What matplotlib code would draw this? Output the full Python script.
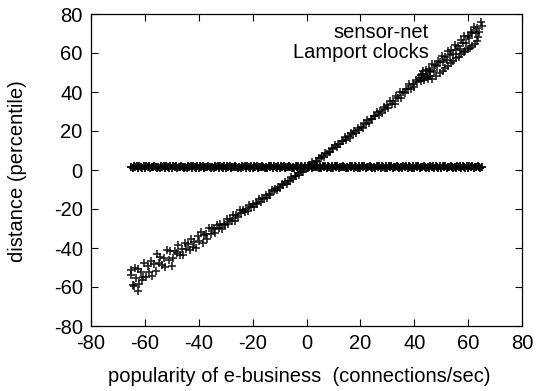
import matplotlib
matplotlib.use("Agg")
import matplotlib.pyplot as plt

# ---- data ----
series_names = ["sensor-net", "Lamport clocks"]

diag_x = [
    -65.0, -64.4, -63.8, -63.2, -62.6, -62.0, -61.4, -60.8, -60.2, -59.6, -59.0, -58.4, -57.8, -57.2,
    -56.6, -56.0, -55.4, -54.8, -54.2, -53.6, -53.0, -52.4, -51.8, -51.2, -50.6, -50.0,
    -62.4, -64.0, -65.0, -61.0,
    -49.4, -48.8, -48.2, -47.6, -47.0, -46.4, -45.8, -45.2, -44.6, -44.0, -43.4, -42.8, -42.2, -41.6,
    -41.0, -40.4, -39.8, -39.2, -38.6, -38.0, -37.4, -36.8, -36.2, -35.6, -35.0,
    -34.4, -33.8, -33.2, -32.6, -32.0, -31.4, -30.8, -30.2, -29.6, -29.0, -28.4, -27.8, -27.2, -26.6,
    -26.0, -25.4, -24.8, -24.2, -23.6, -23.0,
    -22.4, -21.8, -21.2, -20.6, -20.0, -19.4, -18.8, -18.2, -17.6, -17.0, -16.4, -15.8, -15.2, -14.6,
    -14.0, -13.4, -12.8, -12.2, -11.6, -11.0,
    -10.4, -9.8, -9.2, -8.6, -8.0, -7.4, -6.8, -6.2, -5.6, -5.0, -4.4, -3.8, -3.2, -2.6, -2.0, -1.4,
    -0.8, -0.2,
    0.4, 1.0, 1.6, 2.2, 2.8, 3.4, 4.0, 4.6, 5.2, 5.8, 6.4, 7.0, 7.6, 8.2, 8.8, 9.4, 10.0, 10.6, 11.2, 11.8,
    12.4, 13.0, 13.6, 14.2, 14.8, 15.4, 16.0, 16.6, 17.2, 17.8, 18.4, 19.0, 19.6, 20.2, 20.8, 21.4,
    22.0, 22.6, 23.2, 23.8, 24.4, 25.0, 25.6, 26.2, 26.8, 27.4, 28.0, 28.6, 29.2, 29.8,
    30.4, 31.0, 31.6, 32.2, 32.8, 33.4, 34.0, 34.6, 35.2, 35.8, 36.4, 37.0, 37.6, 38.2, 38.8, 39.4,
    40.0, 40.6, 41.2, 41.8, 42.4, 43.0, 43.6, 44.2, 44.8,
    42.5, 43.2, 44.5, 45.7, 46.0, 45.2, 43.8, 42.8,
    45.4, 46.0, 46.6, 47.2, 47.8, 48.4, 49.0, 49.6, 50.2, 50.8, 51.4, 52.0, 52.6, 53.2, 53.8, 54.4,
    55.0, 55.6, 56.2, 56.8, 57.4, 58.0, 58.6, 59.2, 59.8, 60.4, 61.0, 61.6, 62.2, 62.8, 63.4, 64.0,
    64.6, 65.0,
    46.5, 48.0, 49.5, 50.5, 51.5, 52.5, 53.5, 54.5, 55.5, 56.5, 57.5, 58.3, 59.0, 60.0, 60.8, 61.6,
    62.4, 63.2, 63.8]
diag_y = [
    -54.0, -59.1, -50.2, -55.2, -50.8, -58.3, -52.4, -54.9, -47.9, -55.0, -49.0, -52.1, -46.6, -54.2,
    -48.2, -51.7, -43.3, -47.8, -44.8, -48.9, -44.9, -49.9, -40.9, -46.0, -41.5, -49.0,
    -61.8, -59.5, -51.5, -56.5,
    -44.9, -41.3, -42.6, -38.6, -43.7, -40.4, -43.8, -37.6, -40.7, -37.7, -41.1, -35.3, -39.4, -36.8,
    -40.1, -34.0, -36.3, -32.0, -37.4, -33.1, -32.7, -35.5, -29.9, -32.7, -29.8,
    -30.4, -32.1, -28.2, -29.9, -27.8, -30.4, -27.7, -28.4, -25.3, -27.7, -25.0, -25.9, -23.3, -26.0,
    -23.3, -24.3, -20.6, -22.0, -20.5, -21.7,
    -19.9, -21.0, -18.0, -19.1, -17.3, -19.2, -17.0, -17.3, -14.8, -16.5, -14.3, -14.8, -12.7, -14.5,
    -12.3, -12.9, -10.0, -10.9, -9.6, -10.4,
    -8.9, -9.4, -7.1, -7.7, -6.3, -7.3, -5.6, -5.6, -3.7, -4.7, -3.0, -3.1, -1.5, -2.5, -0.8, -1.0,
    1.2, 0.8,
    1.0, 2.5, 2.6, 4.2, 3.2, 4.6, 4.1, 6.3, 5.9, 7.3, 6.8, 8.9, 8.2, 9.4, 9.0, 11.2, 11.0, 12.7, 11.7, 13.4,
    13.2, 15.0, 15.0, 16.9, 15.4, 17.2, 16.3, 19.1, 18.4, 19.9, 19.2, 21.7, 20.7, 22.1, 21.4, 24.1,
    23.7, 25.8, 24.3, 26.3, 26.1, 27.9, 27.9, 29.9, 28.4, 30.2, 29.4, 32.1, 31.5, 33.1,
    31.9, 35.5, 33.6, 35.5, 34.0, 37.8, 36.9, 39.8, 37.1, 40.0, 39.3, 41.7, 41.4, 44.1, 41.6, 43.9,
    42.4, 46.3, 45.0, 47.1, 45.6, 49.3, 47.4, 49.3, 47.8,
    48.5, 50.6, 51.3, 50.2, 48.3, 46.6, 46.2, 47.0,
    52.0, 50.7, 54.2, 50.7, 54.1, 53.1, 56.1, 55.5, 58.7, 55.5, 58.2, 56.2, 60.9, 59.1, 61.6, 59.6,
    64.1, 61.5, 63.8, 61.8, 66.5, 65.2, 68.7, 65.2, 68.7, 67.7, 70.7, 70.2, 73.4, 70.2, 72.9, 70.9,
    75.7, 73.7,
    46.5, 48.0, 49.5, 50.8, 52.5, 53.5, 55.0, 56.0, 57.2, 58.0, 59.5, 60.5, 61.0, 62.0, 62.5, 63.5,
    64.5, 66.0, 68.0]

flat_x = [
    -65.0, -64.5, -64.0, -63.5, -63.0, -62.5, -62.0, -61.5, -61.0, -60.5,
    -60.0, -59.5, -59.0, -58.5, -58.0, -57.5, -57.0, -56.5, -56.0, -55.5,
    -55.0, -54.5, -54.0, -53.5, -53.0, -52.5, -52.0, -51.5, -51.0, -50.5,
    -50.0, -49.5, -49.0, -48.5, -48.0, -47.5, -47.0, -46.5, -46.0, -45.5,
    -45.0, -44.5, -44.0, -43.5, -43.0, -42.5, -42.0, -41.5, -41.0, -40.5,
    -40.0, -39.5, -39.0, -38.5, -38.0, -37.5, -37.0, -36.5, -36.0, -35.5,
    -35.0, -34.5, -34.0, -33.5, -33.0, -32.5, -32.0, -31.5, -31.0, -30.5,
    -30.0, -29.5, -29.0, -28.5, -28.0, -27.5, -27.0, -26.5, -26.0, -25.5,
    -25.0, -24.5, -24.0, -23.5, -23.0, -22.5, -22.0, -21.5, -21.0, -20.5,
    -20.0, -19.5, -19.0, -18.5, -18.0, -17.5, -17.0, -16.5, -16.0, -15.5,
    -15.0, -14.5, -14.0, -13.5, -13.0, -12.5, -12.0, -11.5, -11.0, -10.5,
    -10.0, -9.5, -9.0, -8.5, -8.0, -7.5, -7.0, -6.5, -6.0, -5.5,
    -5.0, -4.5, -4.0, -3.5, -3.0, -2.5, -2.0, -1.5, -1.0, -0.5,
    0.0, 0.5, 1.0, 1.5, 2.0, 2.5, 3.0, 3.5, 4.0, 4.5,
    5.0, 5.5, 6.0, 6.5, 7.0, 7.5, 8.0, 8.5, 9.0, 9.5,
    10.0, 10.5, 11.0, 11.5, 12.0, 12.5, 13.0, 13.5, 14.0, 14.5,
    15.0, 15.5, 16.0, 16.5, 17.0, 17.5, 18.0, 18.5, 19.0, 19.5,
    20.0, 20.5, 21.0, 21.5, 22.0, 22.5, 23.0, 23.5, 24.0, 24.5,
    25.0, 25.5, 26.0, 26.5, 27.0, 27.5, 28.0, 28.5, 29.0, 29.5,
    30.0, 30.5, 31.0, 31.5, 32.0, 32.5, 33.0, 33.5, 34.0, 34.5,
    35.0, 35.5, 36.0, 36.5, 37.0, 37.5, 38.0, 38.5, 39.0, 39.5,
    40.0, 40.5, 41.0, 41.5, 42.0, 42.5, 43.0, 43.5, 44.0, 44.5,
    45.0, 45.5, 46.0, 46.5, 47.0, 47.5, 48.0, 48.5, 49.0, 49.5,
    50.0, 50.5, 51.0, 51.5, 52.0, 52.5, 53.0, 53.5, 54.0, 54.5,
    55.0, 55.5, 56.0, 56.5, 57.0, 57.5, 58.0, 58.5, 59.0, 59.5,
    60.0, 60.5, 61.0, 61.5, 62.0, 62.5, 63.0, 63.5, 64.0, 64.5,
    65.0]
flat_y = [
    1.5, 1.0, 2.0, 1.3, 1.8, 1.1, 2.1, 1.6, 1.2, 1.9,
    1.2, 1.9, 1.4, 2.1, 1.0, 1.7, 1.3, 2.0, 1.5, 1.1,
    1.5, 1.0, 2.0, 1.3, 1.8, 1.1, 2.1, 1.6, 1.2, 1.9,
    1.2, 1.9, 1.4, 2.1, 1.0, 1.7, 1.3, 2.0, 1.5, 1.1,
    1.5, 1.0, 2.0, 1.3, 1.8, 1.1, 2.1, 1.6, 1.2, 1.9,
    1.2, 1.9, 1.4, 2.1, 1.0, 1.7, 1.3, 2.0, 1.5, 1.1,
    1.5, 1.0, 2.0, 1.3, 1.8, 1.1, 2.1, 1.6, 1.2, 1.9,
    1.2, 1.9, 1.4, 2.1, 1.0, 1.7, 1.3, 2.0, 1.5, 1.1,
    1.5, 1.0, 2.0, 1.3, 1.8, 1.1, 2.1, 1.6, 1.2, 1.9,
    1.2, 1.9, 1.4, 2.1, 1.0, 1.7, 1.3, 2.0, 1.5, 1.1,
    1.5, 1.0, 2.0, 1.3, 1.8, 1.1, 2.1, 1.6, 1.2, 1.9,
    1.2, 1.9, 1.4, 2.1, 1.0, 1.7, 1.3, 2.0, 1.5, 1.1,
    1.5, 1.0, 2.0, 1.3, 1.8, 1.1, 2.1, 1.6, 1.2, 1.9,
    1.2, 1.9, 1.4, 2.1, 1.0, 1.7, 1.3, 2.0, 1.5, 1.1,
    1.5, 1.0, 2.0, 1.3, 1.8, 1.1, 2.1, 1.6, 1.2, 1.9,
    1.2, 1.9, 1.4, 2.1, 1.0, 1.7, 1.3, 2.0, 1.5, 1.1,
    1.5, 1.0, 2.0, 1.3, 1.8, 1.1, 2.1, 1.6, 1.2, 1.9,
    1.2, 1.9, 1.4, 2.1, 1.0, 1.7, 1.3, 2.0, 1.5, 1.1,
    1.5, 1.0, 2.0, 1.3, 1.8, 1.1, 2.1, 1.6, 1.2, 1.9,
    1.2, 1.9, 1.4, 2.1, 1.0, 1.7, 1.3, 2.0, 1.5, 1.1,
    1.5, 1.0, 2.0, 1.3, 1.8, 1.1, 2.1, 1.6, 1.2, 1.9,
    1.2, 1.9, 1.4, 2.1, 1.0, 1.7, 1.3, 2.0, 1.5, 1.1,
    1.5, 1.0, 2.0, 1.3, 1.8, 1.1, 2.1, 1.6, 1.2, 1.9,
    1.2, 1.9, 1.4, 2.1, 1.0, 1.7, 1.3, 2.0, 1.5, 1.1,
    1.5, 1.0, 2.0, 1.3, 1.8, 1.1, 2.1, 1.6, 1.2, 1.9,
    1.2, 1.9, 1.4, 2.1, 1.0, 1.7, 1.3, 2.0, 1.5, 1.1,
    1.5]

x_ticks = [-80, -60, -40, -20, 0, 20, 40, 60, 80]
y_ticks = [-80, -60, -40, -20, 0, 20, 40, 60, 80]
x_label = "popularity of e-business  (connections/sec)"
y_label = "distance (percentile)"

# ---- figure ----
plt.rcParams['font.family'] = ['Liberation Sans', 'DejaVu Sans']
plt.rcParams['axes.unicode_minus'] = False
FS = 14.5
W, H = 536, 391
fig = plt.figure(figsize=(W / 100, H / 100), dpi=100)
L, R, T, B = 91, 522, 14, 326
ax = fig.add_axes([L / W, 1 - B / H, (R - L) / W, (B - T) / H])

ax.plot(diag_x, diag_y, linestyle='none', marker='+', ms=5.5, mew=1.2, color='black', alpha=0.85)
ax.plot(flat_x, flat_y, linestyle='none', marker='+', ms=5.5, mew=1.4, color='black', alpha=0.9)

ax.set_xlim(-80, 80)
ax.set_ylim(-80, 80)
ax.set_xticks(x_ticks)
ax.set_yticks(y_ticks)
ax.tick_params(direction='in', length=5, width=0.8, top=True, right=True,
               labelsize=FS, pad=6, colors='black')
for s in ax.spines.values():
    s.set_linewidth(0.9)

fig.text(299 / W, 1 - 377 / H, x_label, ha='center', va='center', fontsize=FS)
fig.text(18 / W, 1 - 171 / H, y_label, ha='center', va='center', rotation=90, fontsize=FS)

fig.text(429 / W, 1 - 32 / H, series_names[0], ha='right', va='center', fontsize=FS)
fig.text(429 / W, 1 - 52 / H, series_names[1], ha='right', va='center', fontsize=FS)

fig.savefig("out.png", dpi=100)
